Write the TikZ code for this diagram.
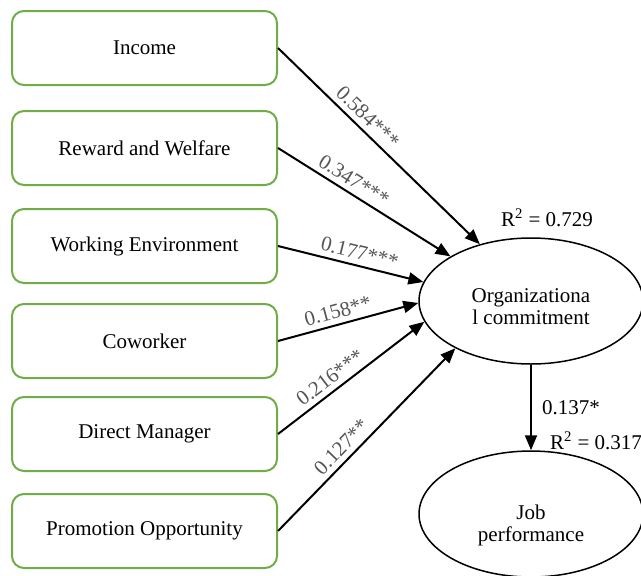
\documentclass[tikz,border=0pt]{standalone}
\usepackage{fontspec}
\setmainfont{Liberation Serif}
\usetikzlibrary{shapes.geometric,arrows.meta}
\definecolor{boxgreen}{RGB}{112,173,71}
\definecolor{coefgray}{RGB}{85,85,85}
\begin{document}
\begin{tikzpicture}[x=0.5pt,y=0.5pt,
  factor/.style={draw=boxgreen,line width=1pt,rounded corners=6pt,minimum width=132.5pt,minimum height=37pt,font=\fontsize{10.5}{12}\selectfont},
  latent/.style={draw,ellipse,line width=0.75pt,minimum width=112pt,minimum height=63pt,inner sep=0pt,align=center,font=\fontsize{10.5}{11}\selectfont},
  path/.style={-{Triangle[length=7.5pt,width=6pt]},line width=1pt},
  coef/.style={sloped,above,text=coefgray,inner sep=2.5pt,font=\fontsize{10.5}{12}\selectfont},
  stat/.style={inner sep=0pt,font=\fontsize{10.5}{12}\selectfont}]
\useasboundingbox (0,0) rectangle (641,575);
\node[factor] (inc) at (144.5,527) {Income};
\node[factor] (rew) at (144.5,427) {Reward and Welfare};
\node[factor] (env) at (144.5,329) {Working Environment};
\node[factor] (cow) at (144.5,234) {Coworker};
\node[factor] (man) at (144.5,141) {Direct Manager};
\node[factor] (pro) at (144.5,44) {Promotion Opportunity};
\node[latent] (org) at (531,274) {\rule{0pt}{13pt}Organizationa\\l commitment};
\node[latent] (job) at (531,61) {\rule{0pt}{19pt}Job\\performance};
\node[stat] (r2org) at (547,357) {R\textsuperscript{2} = 0.729};
\node[stat] (r2job) at (596,134) {R\textsuperscript{2} = 0.317};
\draw[path] (inc.east) -- (org.132) node[coef,pos=0.4] {0.584***};
\draw[path] (rew.east) -- (org.151) node[coef,pos=0.4] {0.347***};
\draw[path] (env.east) -- (org.170) node[coef,pos=0.54] {0.177***};
\draw[path] (cow.east) -- (org.181) node[coef,pos=0.45] {0.158**};
\draw[path] (man.east) -- (org.191) node[coef,pos=0.41] {0.216***};
\draw[path] (pro.east) -- (org.212) node[coef,pos=0.41] {0.127**};
\draw[path] (org.south) -- (job.north) node[stat,midway,right=5pt] {0.137*};
\end{tikzpicture}
\end{document}
